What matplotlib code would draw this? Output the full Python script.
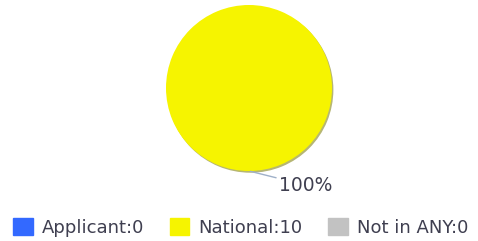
import numpy as np
import matplotlib
matplotlib.use("Agg")
import matplotlib.pyplot as plt
from matplotlib.patches import Patch

# data
categories = ["Applicant", "National", "Not in ANY"]
values = [0, 10, 0]
colors = ["#3369ff", "#f6f400", "#c2c2c2"]

total = sum(values)
pct_labels = ["%d%%" % round(v * 100 / total) if v else "" for v in values]

W, H = 478, 241
fig = plt.figure(figsize=(W / 100, H / 100), dpi=100)
fig.patch.set_facecolor("white")

# pie placed in pixel box (166..332, 5..171)
ax = fig.add_axes([166 / W, (H - 171) / H, 166 / W, 166 / H])

wedges, _ = ax.pie(values, colors=colors, startangle=90, radius=1,
                   shadow={"ox": 0.012, "oy": -0.015, "shade": 0.5, "alpha": 0.55},
                   wedgeprops={"linewidth": 0})
ax.set_xlim(-1, 1)
ax.set_ylim(-1, 1)
ax.axis("off")

# leader line + percentage for nonzero slices
for w, lab in zip(wedges, pct_labels):
    if not lab:
        continue
    ang = np.deg2rad((w.theta1 + w.theta2) / 2)
    x0, y0 = np.cos(ang), np.sin(ang)
    ax.annotate(lab, xy=(x0, y0), xytext=(x0 + 0.36, y0 - 0.17),
                ha="left", va="center", fontsize=13.5, color="#3f3f50",
                annotation_clip=False,
                arrowprops=dict(arrowstyle="-", color="#9fb0c8", lw=1,
                                shrinkA=0, shrinkB=1))

handles = [Patch(facecolor=c, edgecolor=c) for c in colors]
leg_labels = ["%s:%d" % (c, v) for c, v in zip(categories, values)]
fig.legend(handles, leg_labels, loc="center left",
           bbox_to_anchor=(13 / W, (H - 227.5) / H), ncol=3, frameon=False,
           fontsize=13, handlelength=1.1, handleheight=1.1,
           handletextpad=0.5, columnspacing=1.4, borderpad=0,
           borderaxespad=0, labelcolor="#3f3f50")

fig.savefig("out.png", dpi=100, facecolor="white")
